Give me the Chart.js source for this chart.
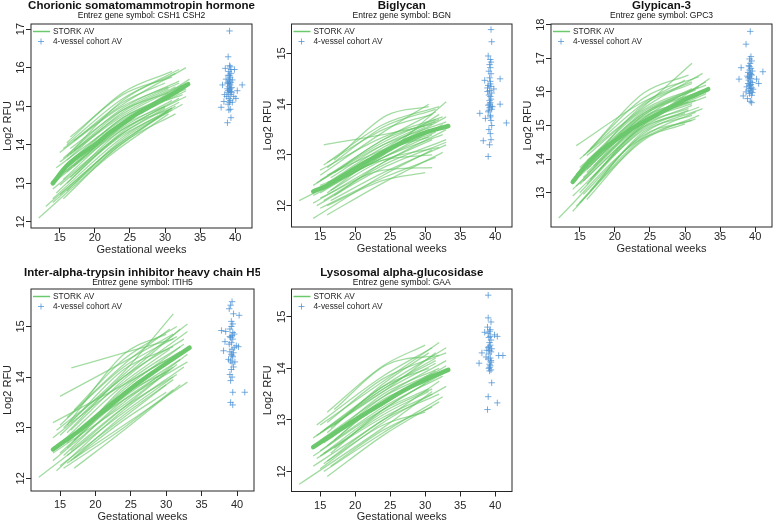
<!DOCTYPE html>
<html>
<head>
<meta charset="utf-8">
<script src="https://cdn.jsdelivr.net/npm/chart.js@4.4.1/dist/chart.umd.min.js"></script>
<style>
  html, body { margin: 0; padding: 0; background: #fff; }
  #wrap { position: relative; width: 777px; height: 521px; overflow: hidden; }
  canvas { position: absolute; }
</style>
</head>
<body>
<div id="wrap"></div>
<script>
// ---- data ----
const titles = ['Chorionic somatomammotropin hormone', 'Biglycan', 'Glypican-3',
                'Inter-alpha-trypsin inhibitor heavy chain H5', 'Lysosomal alpha-glucosidase'];
const geneSymbols = ['CSH1 CSH2', 'BGN', 'GPC3', 'ITIH5', 'GAA'];
const seriesNames = ['STORK AV', '4-vessel cohort AV'];
const xTitle = 'Gestational weeks';
const yTitle = 'Log2 RFU';
const xTicks = [15, 20, 25, 30, 35, 40];
const yTicks = [[12, 13, 14, 15, 16, 17], [12, 13, 14, 15], [13, 14, 15, 16, 17, 18], [12, 13, 14, 15], [12, 13, 14, 15]];

// mean STORK trajectory (thick line)
const meanWeeks = [14, 16, 18, 20, 22, 24, 26, 28, 30, 33.3];
const csh1Mean  = [13.0, 13.45, 13.75, 14.0, 14.3, 14.55, 14.8, 15.0, 15.2, 15.57];
const bgnMean   = [12.28, 12.4, 12.57, 12.74, 12.9, 13.05, 13.2, 13.33, 13.44, 13.57];
const gpc3Mean  = [13.32, 13.85, 14.25, 14.55, 14.85, 15.1, 15.32, 15.55, 15.77, 16.08];
const itih5Mean = [12.57, 12.77, 12.97, 13.2, 13.43, 13.66, 13.88, 14.08, 14.27, 14.58];
const gaaMean   = [12.47, 12.65, 12.83, 13.0, 13.17, 13.33, 13.5, 13.65, 13.78, 13.97];

// individual STORK trajectories: [week, value, week, value, week, value]
const csh1Lines = [
  [12.0,12.1, 22,13.7, 30.5,14.8], [13.0,12.4, 23,13.95, 31.0,14.95], [14.0,12.6, 24,14.2, 31.5,15.0],
  [14.0,12.85, 24,14.3, 32.0,15.1], [14.5,13.1, 24,14.55, 33.0,15.4], [15.0,12.7, 24,14.1, 30.5,14.85],
  [15.0,13.2, 24,14.45, 31.0,15.15], [15.0,13.55, 24,14.75, 32.5,15.55], [15.5,13.35, 24,14.6, 31.0,15.3],
  [15.5,13.9, 24,15.05, 33.0,16.0], [16.0,13.0, 24,14.35, 32.0,15.2], [16.0,13.6, 24,14.85, 30.5,15.45],
  [16.0,14.0, 24,15.2, 31.5,15.85], [16.0,13.3, 24,14.5, 30.0,15.0], [16.5,14.2, 24,15.3, 31.0,15.75],
  [16.5,13.75, 24,14.9, 32.0,15.6], [17.0,13.45, 24,14.55, 33.5,15.7], [17.0,14.1, 24,15.1, 30.0,15.6],
  [15.0,12.95, 24,14.25, 31.0,14.9], [14.5,13.4, 24,14.65, 31.0,15.35], [16.0,12.8, 24,14.15, 32.5,15.05],
  [15.5,13.65, 24,14.95, 32.0,15.65], [14.0,13.0, 24,14.4, 33.0,15.25], [16.5,13.15, 24,14.4, 31.0,14.95],
  [17.0,13.85, 24,14.8, 31.5,15.5], [15.0,13.8, 24,15.0, 30.5,15.5], [16.0,13.5, 24,14.7, 33.0,15.45],
  [15.5,12.6, 24,14.05, 31.5,14.8], [14.5,12.75, 24,14.3, 30.0,14.95], [16.0,14.05, 24,15.35, 31.0,15.9],
  [15.0,13.25, 24,14.6, 32.0,15.35], [17.0,13.6, 24,14.7, 32.5,15.3], [16.5,13.9, 24,14.9, 30.5,15.35],
  [15.5,13.1, 24,14.5, 33.0,15.6], [14.0,12.5, 23,13.9, 30.5,14.9], [16.0,13.7, 24,15.15, 32.0,15.95]
];
const bgnLines = [
  [12.0,12.1, 24,12.95, 32.5,13.6], [14.0,11.75, 24,12.6, 31.0,13.1], [14.0,12.05, 24,12.85, 33.0,13.5],
  [14.5,12.3, 24,13.1, 32.0,13.8], [15.0,12.5, 24,13.3, 31.5,13.85], [15.0,12.15, 24,12.7, 31.0,12.75],
  [15.0,12.6, 24,13.45, 30.5,14.0], [15.5,13.2, 24,13.4, 31.0,13.6], [16.0,11.82, 24,12.45, 32.5,13.05],
  [16.0,12.4, 24,13.0, 33.0,14.05], [16.0,12.75, 24,13.55, 31.5,13.9], [16.0,12.0, 24,12.5, 30.0,12.65],
  [16.5,12.55, 24,13.2, 32.0,13.7], [17.0,12.9, 24.5,13.78, 30.5,13.95], [17.0,12.2, 24,12.85, 31.0,13.3],
  [14.5,12.0, 24,12.75, 33.0,13.25], [15.5,12.35, 24,13.05, 31.5,13.45], [15.0,12.7, 24,13.35, 32.5,13.75],
  [16.0,12.45, 24,13.15, 30.0,13.55], [14.0,12.2, 24,12.95, 31.0,13.4], [16.5,12.1, 24,12.65, 33.0,13.2],
  [15.0,11.95, 24,12.55, 31.5,12.95], [17.0,12.65, 24,13.3, 31.5,13.65], [15.5,12.8, 24,13.6, 32.0,13.95],
  [16.0,12.6, 24,13.1, 30.5,13.35], [14.5,12.45, 24,13.2, 33.0,13.65], [16.5,12.3, 24,12.9, 32.0,13.15],
  [15.0,12.25, 24,13.0, 30.5,13.5], [16.0,12.85, 24,13.5, 31.0,13.8], [17.0,12.45, 24,12.95, 32.5,13.4],
  [15.5,12.1, 24,12.8, 33.0,13.3], [14.0,12.4, 24,13.25, 31.5,13.7], [16.0,12.25, 24,13.05, 33.0,13.75],
  [15.0,12.4, 24,12.9, 31.0,13.0]
];
const gpc3Lines = [
  [12.0,12.25, 23,14.5, 30.0,15.05], [14.0,12.45, 24,14.65, 31.5,15.4], [14.0,12.9, 24,14.85, 32.0,15.55],
  [14.5,13.2, 24,15.05, 33.0,15.95], [14.5,14.4, 24,15.7, 31.0,16.3], [15.0,13.0, 24,14.9, 30.5,15.45],
  [15.0,13.5, 24,15.2, 32.0,15.9], [15.0,13.75, 24,15.35, 31.0,16.1], [15.5,14.1, 24,15.55, 31.0,16.85],
  [15.5,13.35, 24,15.0, 33.5,16.4], [16.0,12.8, 24,14.6, 31.5,15.2], [16.0,13.6, 24,15.15, 30.0,15.75],
  [16.0,14.2, 24,15.8, 32.0,16.45], [16.0,13.95, 24,15.45, 33.0,16.2], [16.5,13.4, 24,14.95, 31.0,15.6],
  [16.5,14.3, 24,15.95, 30.5,16.5], [17.0,13.8, 24,15.3, 32.5,16.0], [17.0,14.05, 24,15.6, 31.0,16.25],
  [14.0,13.1, 24,15.1, 30.5,15.7], [15.0,12.7, 24,14.75, 32.5,15.5], [15.5,13.65, 24,15.4, 31.5,16.05],
  [16.0,13.25, 24,15.05, 33.0,15.85], [14.5,13.55, 24,15.3, 32.0,16.15], [16.5,13.05, 24,14.8, 31.0,15.3],
  [15.0,14.0, 24,15.65, 30.0,16.35], [16.0,13.7, 24,15.25, 31.5,15.75], [17.0,13.5, 24,15.0, 30.5,15.5],
  [15.5,12.95, 24,14.7, 31.0,15.15], [14.0,13.35, 24,15.2, 33.0,16.3], [16.0,14.1, 24,15.5, 32.5,16.55],
  [15.0,13.25, 24,14.95, 30.0,15.35], [16.5,13.85, 24,15.35, 33.0,16.05], [15.5,13.45, 24,15.1, 31.0,15.65],
  [14.5,12.6, 24,14.55, 32.0,15.3]
];
const itih5Lines = [
  [12.0,12.02, 24,13.3, 31.0,14.0], [14.0,13.1, 24,13.85, 32.0,14.5], [15.0,13.62, 24,14.3, 31.0,14.85],
  [16.6,14.18, 24.5,14.5, 31.0,14.75], [14.0,12.35, 24,13.5, 33.0,14.45], [14.5,12.6, 24,13.7, 31.5,14.4],
  [15.0,12.25, 24,13.2, 30.0,13.85], [15.0,12.85, 24,14.0, 32.5,14.75], [15.5,12.45, 24,13.55, 31.0,14.2],
  [15.5,13.0, 24,14.1, 31.0,15.25], [16.0,12.3, 24,13.05, 33.0,13.9], [16.0,12.7, 24,13.75, 32.0,14.6],
  [16.0,13.2, 24,14.25, 30.5,14.95], [16.5,12.55, 24,13.4, 31.5,14.05], [16.5,12.95, 24,13.95, 33.0,14.9],
  [17.0,12.4, 24,13.15, 30.0,13.7], [17.0,13.35, 24,14.35, 31.5,15.0], [14.0,12.8, 24,13.9, 30.5,14.55],
  [15.0,12.5, 24,13.6, 32.0,14.35], [15.5,12.2, 24,13.0, 31.0,13.75], [16.0,12.9, 24,14.05, 33.0,15.05],
  [14.5,12.15, 24,13.35, 32.5,14.2], [16.0,12.6, 24,13.65, 30.0,14.1], [17.0,12.75, 24,13.8, 32.0,14.5],
  [15.0,13.05, 24,14.2, 31.5,14.8], [16.5,12.35, 24,13.25, 31.0,13.95], [14.0,12.5, 24,13.45, 30.5,14.15],
  [15.5,12.75, 24,13.85, 32.5,14.65], [16.0,13.05, 24,14.45, 30.0,14.85], [17.0,12.2, 24,12.95, 32.0,13.85],
  [15.0,12.7, 24,13.55, 33.0,14.3], [16.5,13.1, 24,14.15, 31.0,14.6], [14.5,12.95, 24,14.0, 32.0,14.95],
  [16.0,12.45, 24,13.4, 31.5,14.25]
];
const gaaLines = [
  [12.0,11.75, 24,12.85, 31.0,13.55], [14.0,12.1, 24,13.0, 32.0,13.75], [14.0,12.45, 24,13.3, 33.0,14.05],
  [14.5,12.7, 24,13.55, 31.5,14.1], [15.0,12.9, 24,13.75, 32.0,14.5], [15.0,12.3, 24,13.1, 30.5,13.55],
  [15.0,12.6, 24,13.45, 31.0,13.9], [15.5,12.15, 24,12.9, 30.0,13.15], [15.5,12.8, 24,13.65, 33.0,14.4],
  [16.0,11.9, 24,12.7, 32.0,13.35], [16.0,12.5, 24,13.35, 31.0,13.8], [16.0,13.15, 24,14.05, 30.0,14.45],
  [16.5,12.35, 24,13.2, 32.5,13.9], [16.5,12.85, 24,13.6, 31.5,14.2], [17.0,12.6, 24,13.4, 30.5,13.75],
  [17.0,13.2, 24.5,14.07, 32.0,14.25], [14.5,12.25, 24,13.05, 31.0,13.5], [15.0,12.05, 24,12.95, 33.0,13.65],
  [15.5,12.55, 24,13.5, 32.0,14.0], [16.0,12.75, 24,13.7, 30.5,14.3], [16.5,12.1, 24,12.8, 31.0,13.25],
  [14.0,12.65, 24,13.55, 31.5,14.3], [15.0,12.4, 24,13.25, 32.5,13.85], [16.0,12.95, 24,13.8, 33.0,14.3],
  [17.0,12.45, 24,13.15, 31.0,13.6], [15.5,12.35, 24,13.2, 30.0,13.7], [14.5,12.9, 24,13.85, 31.0,14.4],
  [16.0,12.2, 24,13.0, 32.0,13.5], [15.0,12.75, 24,13.6, 31.5,14.15], [16.5,12.65, 24,13.45, 33.0,14.15],
  [17.0,12.9, 24,13.65, 30.5,14.0], [15.5,12.0, 24,12.75, 32.5,13.45], [14.0,12.3, 24,13.2, 30.5,13.6],
  [16.0,12.6, 24,13.35, 31.5,13.95]
];

// 4-vessel cohort: [week, value]
const csh1Cohort = [
  [39.2,16.95],[39.0,16.28],[38.6,15.98],[39.9,15.95],[39.2,16.05],[39.3,16.02],[39.1,15.9],[39.4,15.85],
  [39.0,15.8],[39.3,15.75],[39.2,15.7],[38.7,15.7],[39.6,15.68],[39.1,15.65],[39.4,15.62],[39.0,15.6],
  [38.2,15.55],[41.0,15.55],[39.3,15.55],[39.1,15.5],[39.5,15.48],[38.9,15.45],[39.2,15.42],[39.4,15.38],
  [39.0,15.35],[38.5,15.3],[39.3,15.3],[39.8,15.25],[39.1,15.2],[39.3,15.15],[38.4,15.12],[39.2,15.1],
  [40.1,15.2],[39.0,15.05],[39.3,14.92],[39.1,14.9],[38.0,14.97],[39.4,14.7],[38.9,14.57],[39.2,15.8],
  [39.4,15.95],[38.9,15.6],[39.5,15.35],[39.0,15.4],[39.6,15.1],[38.8,15.25],[40.3,15.4],[39.2,15.58],[39.3,15.45]
];
const bgnCohort = [
  [39.4,15.47],[39.5,15.23],[39.0,14.95],[39.3,14.88],[39.4,14.83],[39.2,14.78],[39.3,14.72],[39.1,14.65],
  [39.4,14.6],[39.2,14.52],[40.7,14.5],[38.5,14.47],[39.3,14.4],[39.0,14.37],[39.4,14.35],[38.9,14.32],
  [39.8,14.3],[39.2,14.27],[39.5,14.22],[39.1,14.18],[39.3,14.15],[39.4,14.1],[39.2,14.07],[40.7,14.0],
  [39.3,14.03],[39.0,13.98],[39.4,13.96],[39.2,13.93],[39.5,13.9],[39.1,13.88],[39.0,13.85],[37.8,13.82],
  [39.3,13.78],[38.6,13.72],[39.3,13.75],[39.4,13.68],[41.6,13.63],[39.5,13.58],[39.1,13.5],[39.3,13.42],
  [38.3,13.28],[39.4,13.3],[39.2,13.2],[39.0,12.97],[39.3,14.45],[39.2,14.0],[39.6,13.95],[38.9,14.25]
];
const gpc3Cohort = [
  [39.3,17.8],[38.7,17.42],[39.4,17.05],[39.2,16.98],[39.5,16.92],[39.3,16.85],[38.0,16.72],[39.1,16.78],
  [39.4,16.7],[39.2,16.65],[39.6,16.62],[41.1,16.6],[39.0,16.58],[39.3,16.55],[39.5,16.5],[38.9,16.47],
  [39.2,16.45],[37.7,16.38],[39.4,16.4],[40.2,16.38],[39.1,16.35],[39.3,16.3],[39.6,16.28],[39.0,16.25],
  [39.4,16.22],[40.5,16.25],[39.2,16.18],[38.8,16.15],[39.5,16.12],[39.3,16.1],[39.1,16.05],[39.4,16.02],
  [38.7,16.0],[39.6,15.98],[39.2,15.95],[38.3,15.88],[39.5,15.9],[38.9,15.8],[39.3,15.72],[39.5,15.68],
  [39.2,16.75],[39.4,16.52],[39.0,16.42],[39.3,16.2],[39.7,16.08]
];
const itih5Cohort = [
  [39.3,15.49],[39.1,15.42],[38.9,15.35],[39.5,15.25],[40.3,15.22],[39.2,15.1],[39.4,15.05],[39.0,14.95],
  [37.8,14.92],[38.4,14.9],[39.6,14.85],[39.3,14.82],[39.1,14.78],[39.4,14.75],[38.3,14.7],[39.2,14.68],
  [39.9,14.62],[40.2,14.6],[39.3,14.55],[38.1,14.52],[39.0,14.5],[39.5,14.48],[39.2,14.45],[39.4,14.4],
  [38.8,14.35],[39.1,14.32],[39.3,14.28],[39.5,14.2],[39.2,14.15],[39.0,14.05],[39.3,14.0],[39.1,13.93],
  [39.4,13.7],[41.1,13.7],[39.1,13.5],[39.4,13.45],[39.2,15.0],[39.4,14.88],[38.9,14.65],[39.6,14.58],
  [39.0,14.8],[39.3,14.42],[39.7,14.3]
];
const gaaCohort = [
  [39.0,15.42],[39.0,14.98],[39.4,14.9],[38.9,14.8],[39.3,14.75],[39.2,14.72],[38.5,14.7],[39.9,14.65],
  [40.3,14.62],[39.1,14.6],[39.4,14.55],[39.2,14.5],[39.3,14.45],[39.0,14.4],[39.5,14.38],[39.2,14.35],
  [39.4,14.32],[38.1,14.3],[39.1,14.28],[41.1,14.25],[40.5,14.25],[38.7,14.22],[39.3,14.2],[39.0,14.18],
  [39.4,14.15],[37.7,14.1],[39.2,14.08],[39.3,14.05],[39.1,14.0],[39.4,13.97],[39.2,13.95],[39.5,13.72],
  [39.0,13.45],[40.3,13.33],[38.9,13.2],[39.3,14.62],[39.1,14.42],[39.4,14.12],[39.2,14.02],[39.0,14.68],[38.8,14.35]
];

const allLines  = [csh1Lines, bgnLines, gpc3Lines, itih5Lines, gaaLines];
const allMeans  = [csh1Mean, bgnMean, gpc3Mean, itih5Mean, gaaMean];
const allCohort = [csh1Cohort, bgnCohort, gpc3Cohort, itih5Cohort, gaaCohort];
const yRanges   = [[11.84, 17.13], [11.58, 15.58], [11.98, 18.02], [11.75, 15.74], [11.61, 15.54]];
const xRange    = [10.9, 42.4];

// ---- layout (pixels) ----
const panels = [
  { left: 0,   top: 0,   w: 260, h: 258, area: [31, 24, 252, 228],     tl: 10, at: 22, ty: 6,  sy: 16 },
  { left: 260, top: 0,   w: 260, h: 258, area: [31.5, 24, 252, 227],   tl: 10, at: 22, ty: 6,  sy: 16 },
  { left: 520, top: 0,   w: 257, h: 258, area: [31, 24, 252, 227],     tl: 10, at: 22, ty: 6,  sy: 16 },
  { left: 0,   top: 260, w: 260, h: 261, area: [31, 29, 254, 231],     tl: 14, at: 25.5, ty: 12.5, sy: 22.5 },
  { left: 260, top: 260, w: 260, h: 261, area: [31.5, 29, 252, 231.5], tl: 14, at: 25.5, ty: 12.5, sy: 22.5 }
];

const FONT = '"Liberation Sans", Arial, sans-serif';
const thinColor = 'rgba(100, 196, 100, 0.6)';
const meanColor = 'rgb(108, 200, 108)';
const blue = 'rgba(75, 145, 212, 0.75)';
const ink = '#262626';

function rDecor(i) {
  const p = panels[i];
  return {
    id: 'rDecor' + i,
    afterDraw(chart) {
      const ctx = chart.ctx, a = chart.chartArea;
      const xs = chart.scales.x, ys = chart.scales.y;
      const cx = (a.left + a.right) / 2, cy = (a.top + a.bottom) / 2;
      ctx.save();
      ctx.strokeStyle = ink;
      ctx.lineWidth = 1;
      ctx.strokeRect(a.left, a.top, a.right - a.left, a.bottom - a.top);
      ctx.fillStyle = '#111';
      ctx.textAlign = 'center';
      ctx.textBaseline = 'middle';
      // titles
      ctx.font = 'bold 11.5px ' + FONT;
      ctx.fillText(titles[i], cx, p.ty);
      ctx.font = '8.5px ' + FONT;
      ctx.fillText('Entrez gene symbol: ' + geneSymbols[i], cx, p.sy);
      // x tick labels
      ctx.fillStyle = ink;
      ctx.font = '11px ' + FONT;
      xTicks.forEach(v => ctx.fillText(String(v), xs.getPixelForValue(v), a.bottom + p.tl));
      ctx.fillText(xTitle, cx, a.bottom + p.at);
      // y tick labels, rotated
      yTicks[i].forEach(v => {
        ctx.save();
        ctx.translate(a.left - 10, ys.getPixelForValue(v));
        ctx.rotate(-Math.PI / 2);
        ctx.fillText(String(v), 0, 0);
        ctx.restore();
      });
      ctx.save();
      ctx.translate(a.left - 23.5, cy);
      ctx.rotate(-Math.PI / 2);
      ctx.fillText(yTitle, 0, 0);
      ctx.restore();
      // legend
      const ly1 = a.top + 7.5, ly2 = a.top + 17.5;
      ctx.strokeStyle = meanColor;
      ctx.lineWidth = 1.5;
      ctx.beginPath();
      ctx.moveTo(a.left + 2, ly1); ctx.lineTo(a.left + 19, ly1);
      ctx.stroke();
      ctx.strokeStyle = blue;
      ctx.lineWidth = 1;
      ctx.beginPath();
      ctx.moveTo(a.left + 7, ly2); ctx.lineTo(a.left + 13, ly2);
      ctx.moveTo(a.left + 10, ly2 - 3); ctx.lineTo(a.left + 10, ly2 + 3);
      ctx.stroke();
      ctx.textAlign = 'left';
      ctx.font = '8.3px ' + FONT;
      ctx.fillStyle = ink;
      ctx.fillText(seriesNames[0], a.left + 22, ly1);
      ctx.fillText(seriesNames[1], a.left + 22, ly2);
      ctx.restore();
    }
  };
}

const wrap = document.getElementById('wrap');
panels.forEach((p, i) => {
  const cv = document.createElement('canvas');
  cv.width = p.w; cv.height = p.h;
  cv.style.left = p.left + 'px'; cv.style.top = p.top + 'px';
  cv.style.width = p.w + 'px'; cv.style.height = p.h + 'px';
  wrap.appendChild(cv);

  const [al, at, ar, ab] = p.area;
  const datasets = [];
  datasets.push({
    data: meanWeeks.map((w, k) => ({ x: w, y: allMeans[i][k] })),
    showLine: true, borderColor: meanColor, borderWidth: 4.5, pointRadius: 0,
    cubicInterpolationMode: 'monotone', borderCapStyle: 'round', order: 0
  });
  datasets.push({
    data: allCohort[i].map(d => ({ x: d[0], y: d[1] })),
    showLine: false, pointStyle: 'cross', pointRadius: 3.2, borderColor: blue,
    borderWidth: 1, backgroundColor: blue, order: 1
  });
  allLines[i].forEach(l => {
    datasets.push({
      data: [{ x: l[0], y: l[1] }, { x: l[2], y: l[3] }, { x: l[4], y: l[5] }],
      showLine: true, borderColor: thinColor, borderWidth: 1.3, pointRadius: 0,
      cubicInterpolationMode: 'monotone', order: 2
    });
  });

  new Chart(cv, {
    type: 'scatter',
    data: { datasets },
    options: {
      responsive: false,
      animation: false,
      events: [],
      layout: { padding: { left: 0, top: at, right: p.w - ar, bottom: 0 } },
      plugins: { legend: { display: false }, tooltip: { enabled: false } },
      scales: {
        x: {
          type: 'linear', min: xRange[0], max: xRange[1],
          afterBuildTicks: s => { s.ticks = xTicks.map(v => ({ value: v })); },
          afterFit: s => { s.height = p.h - ab; },
          ticks: { display: false },
          grid: { drawOnChartArea: false, drawTicks: true, tickLength: 5, color: ink },
          border: { display: false }
        },
        y: {
          type: 'linear', min: yRanges[i][0], max: yRanges[i][1],
          afterBuildTicks: s => { s.ticks = yTicks[i].map(v => ({ value: v })); },
          afterFit: s => { s.width = al; },
          ticks: { display: false },
          grid: { drawOnChartArea: false, drawTicks: true, tickLength: 5, color: ink },
          border: { display: false }
        }
      }
    },
    plugins: [rDecor(i)]
  });
});
</script>
</body>
</html>
